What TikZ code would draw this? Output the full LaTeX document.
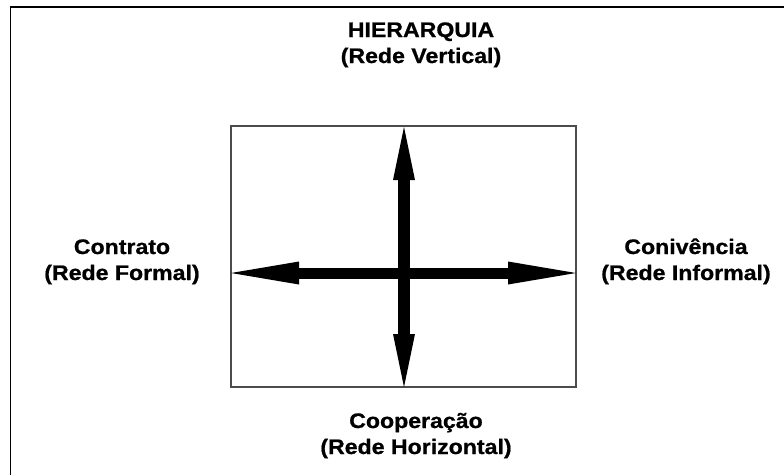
\documentclass[tikz,border=0pt]{standalone}
\usepackage{graphicx}
\usepackage{fontspec}
\setmainfont{Liberation Sans}
\newfontfamily\heavysans{Liberation Sans Bold}[FakeBold=0.8]
\usetikzlibrary{arrows.meta}
% labels are set in a slightly widened heavy sans
\newcommand\widetext[1]{\scalebox{1.1}[1]{#1}}
\begin{document}
\begin{tikzpicture}[x=1pt,y=-1pt,
  axislabel/.style={font=\heavysans\fontsize{21}{26}\selectfont, align=center,
    anchor=base, inner sep=0pt, text=black},
  hhead/.tip={Triangle[length=68pt,width=23pt,line width=0pt]},
  vhead/.tip={Triangle[length=53pt,width=22pt,line width=0pt]},
  harrow/.style={line width=11pt, arrows={hhead-hhead}},
  varrow/.style={line width=11.5pt, arrows={vhead-vhead}},
  frame/.style={line width=2.2pt, black}]
\useasboundingbox (0,0) rectangle (784,475);

% page frame (top and left edges only)
\draw[frame] (9.5,7) -- (784,7);
\draw[frame, line width=1.8pt] (10.5,6) -- (10.5,475);

% central square
\node[draw=black!70, line width=2pt, minimum width=345pt, minimum height=261pt,
      inner sep=0pt, outer sep=0pt, anchor=north west] (box) at (231,126) {};

% ends of the two axes
\coordinate (L) at (231,273);
\coordinate (R) at (576,273);
\coordinate (T) at (404,127);
\coordinate (B) at (404,387);

\draw[harrow] (L) -- (R);
\draw[varrow] (T) -- (B);

% axis labels (anchored on the baseline of their second line)
\node[axislabel] (top)    at (421,63)  {\widetext{HIERARQUIA}\\\widetext{(Rede Vertical)}};
\node[axislabel] (left)   at (122,280) {\widetext{Contrato}\\\widetext{(Rede Formal)}};
\node[axislabel] (right)  at (686,280) {\widetext{Conivência}\\\widetext{(Rede Informal)}};
\node[axislabel] (bottom) at (416,454) {\widetext{Cooperação}\\\widetext{(Rede Horizontal)}};
\end{tikzpicture}
\end{document}
